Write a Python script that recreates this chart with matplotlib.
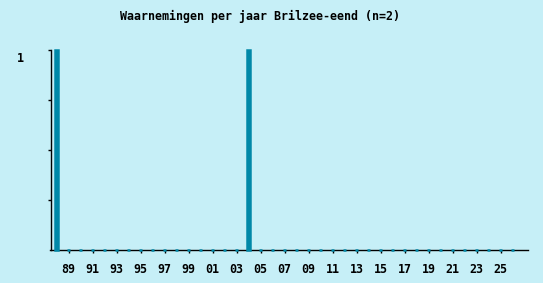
import matplotlib
matplotlib.use("Agg")
import matplotlib.pyplot as plt
from matplotlib.transforms import ScaledTranslation

years = list(range(1988, 2027))
counts = [1 if y in (1988, 2004) else 0 for y in years]
xtick_years = list(range(1989, 2026, 2))
xtick_labels = [f"{y % 100:02d}" for y in xtick_years]
ytick_values = [0.25, 0.5, 0.75, 1]
ytick_labels = ["", "", "", "1"]
title = "Waarnemingen per jaar Brilzee-eend (n=2)"

bg = "#c6eff7"
bar_color = "#0088a8"

W, H = 543, 283
fig = plt.figure(figsize=(W / 100, H / 100), dpi=100, facecolor=bg)
ax = fig.add_axes([50.5 / W, (H - 250) / H, (528.5 - 50.5) / W, 200 / H])
ax.set_facecolor(bg)

ax.bar(years, counts, width=0.3, color=bar_color, edgecolor=bar_color,
       linewidth=1.8, zorder=3, clip_on=False)

ax.set_xlim(1987.5, 2027.33)
ax.set_ylim(0, 1)

for s in ("top", "right"):
    ax.spines[s].set_visible(False)
for s in ("left", "bottom"):
    ax.spines[s].set_color("black")
    ax.spines[s].set_linewidth(1.0)
    ax.spines[s].set_zorder(2)

font = dict(family="DejaVu Sans Mono", weight="bold", size=8.4)
ax.set_xticks(xtick_years)
ax.set_xticklabels(xtick_labels, **font)
ax.set_yticks(ytick_values)
ax.set_yticklabels(ytick_labels, **font)
ax.tick_params(axis="x", direction="out", length=2.5, width=1, pad=7, colors="black")
ax.tick_params(axis="y", direction="out", length=2, width=1, pad=17, colors="black")
for lab in ax.get_yticklabels():
    lab.set_transform(lab.get_transform() + ScaledTranslation(0, -7 / 100, fig.dpi_scale_trans))

fig.text(260 / W, 1 - 16 / H, title, ha="center", va="center", **font)

fig.savefig("out.png", dpi=100, facecolor=bg)
